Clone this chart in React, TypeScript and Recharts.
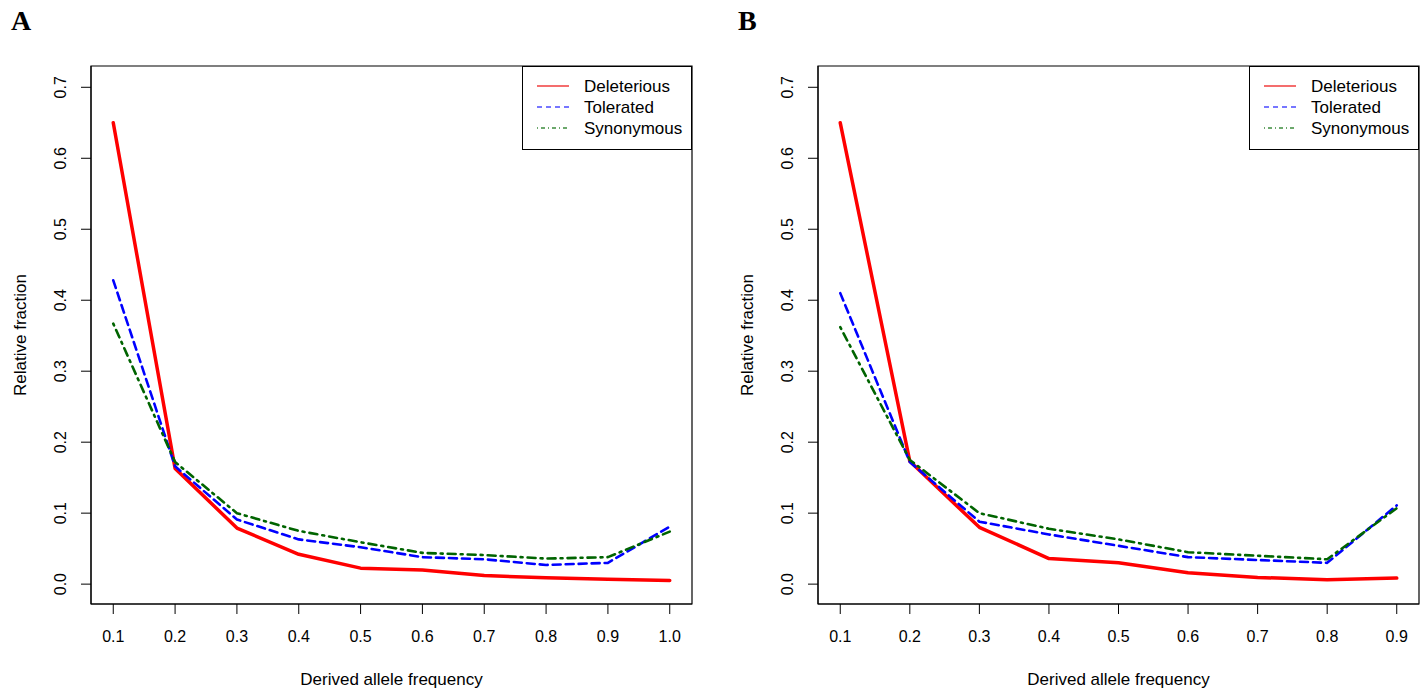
import React from 'react';
import { LineChart, Line, XAxis, YAxis, ReferenceArea, Legend, Label } from 'recharts';

// Panel A: derived allele frequency bins 0.1 .. 1.0
const freqA = [0.1, 0.2, 0.3, 0.4, 0.5, 0.6, 0.7, 0.8, 0.9, 1.0];
const deleteriousA = [0.650, 0.163, 0.079, 0.042, 0.0225, 0.020, 0.012, 0.009, 0.007, 0.005];
const toleratedA = [0.428, 0.166, 0.091, 0.063, 0.052, 0.038, 0.035, 0.027, 0.030, 0.081];
const synonymousA = [0.367, 0.172, 0.100, 0.075, 0.059, 0.044, 0.041, 0.036, 0.038, 0.074];

// Panel B: bins 0.1 .. 0.9
const freqB = [0.1, 0.2, 0.3, 0.4, 0.5, 0.6, 0.7, 0.8, 0.9];
const deleteriousB = [0.650, 0.173, 0.080, 0.036, 0.030, 0.016, 0.0095, 0.006, 0.0085];
const toleratedB = [0.410, 0.172, 0.088, 0.070, 0.054, 0.038, 0.034, 0.030, 0.111];
const synonymousB = [0.362, 0.175, 0.100, 0.078, 0.063, 0.045, 0.040, 0.035, 0.107];

const xTicksA = [0.1, 0.2, 0.3, 0.4, 0.5, 0.6, 0.7, 0.8, 0.9, 1.0];
const xTicksB = [0.1, 0.2, 0.3, 0.4, 0.5, 0.6, 0.7, 0.8, 0.9];
const yTicks = [0, 0.1, 0.2, 0.3, 0.4, 0.5, 0.6, 0.7];

const seriesNames = ['Deleterious', 'Tolerated', 'Synonymous'];

const FONT = '"Liberation Sans", Arial, Helvetica, sans-serif';
const PLOT_TOP = 66;
const PLOT_BOTTOM = 604;
const Y_AXIS_W = 91;
const X_AXIS_H = 90;
const CHART_H = 694;
const PLOT_W = 601;
const Y_DOMAIN: [number, number] = [-0.028, 0.73];

const seriesStyle = [
  { key: 'deleterious', color: '#ff0000', legendColor: '#f03c3c', width: 3.5, dash: undefined, legendDash: undefined },
  { key: 'tolerated', color: '#0000ff', legendColor: '#4a4aff', width: 2.6, dash: '8 5', legendDash: '5 4' },
  { key: 'synonymous', color: '#006400', legendColor: '#3c8c3c', width: 2.6, dash: '2 5 8 5', legendDash: '1 3 4 3' },
];

const buildRows = (freq: number[], d: number[], t: number[], s: number[]) =>
  freq.map((f, i) => ({ freq: f, deleterious: d[i], tolerated: t[i], synonymous: s[i] }));

const XTick = ({ x, payload }: any) => (
  <text x={x} y={642} textAnchor="middle" fontSize={16} fontFamily={FONT} fill="#000">
    {Number(payload.value).toFixed(1)}
  </text>
);

const YTick = ({ y, payload }: any) => (
  <text
    x={66}
    y={y}
    transform={`rotate(-90, 66, ${y})`}
    textAnchor="middle"
    fontSize={16}
    fontFamily={FONT}
    fill="#000"
  >
    {Number(payload.value).toFixed(1)}
  </text>
);

const LegendBox = () => (
  <svg width={170} height={84} style={{ display: 'block' }}>
    <rect x={0.5} y={0.5} width={169} height={83} fill="#fff" stroke="#000" strokeWidth={1} />
    {seriesStyle.map((s, i) => {
      const cy = 20 + i * 21;
      return (
        <g key={s.key}>
          <line x1={15} x2={47} y1={cy} y2={cy} stroke={s.legendColor} strokeWidth={1.5} strokeDasharray={s.legendDash} />
          <text x={62} y={cy} dominantBaseline="central" fontSize={17} fontFamily={FONT} fill="#000">
            {seriesNames[i]}
          </text>
        </g>
      );
    })}
  </svg>
);

interface PanelProps {
  rows: any[];
  xDomain: [number, number];
  xTicks: number[];
  left: number;
  rightMargin: number;
  letter: string;
}

const Panel: React.FC<PanelProps> = ({ rows, xDomain, xTicks, left, rightMargin, letter }) => {
  const width = Y_AXIS_W + PLOT_W + rightMargin;
  return (
    <div style={{ position: 'absolute', left, top: 0, width, height: CHART_H }}>
      <div
        style={{
          position: 'absolute',
          left: 11,
          top: 0,
          fontFamily: '"Liberation Serif", "Times New Roman", serif',
          fontWeight: 'bold',
          fontSize: 28,
          lineHeight: '42px',
          zIndex: 2,
        }}
      >
        {letter}
      </div>
      <LineChart
        width={width}
        height={CHART_H}
        data={rows}
        margin={{ top: PLOT_TOP, right: rightMargin, left: 0, bottom: CHART_H - PLOT_BOTTOM - X_AXIS_H }}
      >
        <XAxis
          dataKey="freq"
          type="number"
          domain={xDomain}
          ticks={xTicks}
          allowDataOverflow
          height={X_AXIS_H}
          tickSize={10}
          tickLine={{ stroke: '#000' }}
          axisLine={{ stroke: '#000' }}
          tick={<XTick />}
          interval={0}
        >
          <Label
            content={() => (
              <text
                x={Y_AXIS_W + PLOT_W / 2}
                y={685}
                textAnchor="middle"
                fontSize={17}
                fontFamily={FONT}
                fill="#000"
              >
                Derived allele frequency
              </text>
            )}
          />
        </XAxis>
        <YAxis
          type="number"
          domain={Y_DOMAIN}
          ticks={yTicks}
          allowDataOverflow
          width={Y_AXIS_W}
          tickSize={10}
          tickLine={{ stroke: '#000' }}
          axisLine={{ stroke: '#000' }}
          tick={<YTick />}
          interval={0}
        >
          <Label
            content={() => (
              <text
                x={26}
                y={(PLOT_TOP + PLOT_BOTTOM) / 2}
                transform={`rotate(-90, 26, ${(PLOT_TOP + PLOT_BOTTOM) / 2})`}
                textAnchor="middle"
                fontSize={17}
                fontFamily={FONT}
                fill="#000"
              >
                Relative fraction
              </text>
            )}
          />
        </YAxis>
        <ReferenceArea
          x1={xDomain[0]}
          x2={xDomain[1]}
          y1={Y_DOMAIN[0]}
          y2={Y_DOMAIN[1]}
          fill="none"
          fillOpacity={0}
          stroke="#000"
          strokeWidth={1.2}
          ifOverflow="visible"
        />
        {seriesStyle.map((s, i) => (
          <Line
            key={s.key}
            type="linear"
            dataKey={s.key}
            name={seriesNames[i]}
            stroke={s.color}
            strokeWidth={s.width}
            strokeDasharray={s.dash}
            strokeLinejoin="round"
            strokeLinecap="round"
            dot={false}
            activeDot={false}
            isAnimationActive={false}
          />
        ))}
        <Legend
          layout="vertical"
          align="center"
          verticalAlign="middle"
          content={<LegendBox />}
          wrapperStyle={{ left: Y_AXIS_W + PLOT_W - 170, top: PLOT_TOP, width: 170, height: 84 }}
        />
      </LineChart>
    </div>
  );
};

const App: React.FC = () => {
  const rowsA = buildRows(freqA, deleteriousA, toleratedA, synonymousA);
  const rowsB = buildRows(freqB, deleteriousB, toleratedB, synonymousB);
  return (
    <div style={{ position: 'absolute', left: 0, top: 0, width: 1427, height: 694, background: '#fff', overflow: 'hidden' }}>
      <Panel rows={rowsA} xDomain={[0.064, 1.036]} xTicks={xTicksA} left={0} rightMargin={30} letter="A" />
      <Panel rows={rowsB} xDomain={[0.068, 0.932]} xTicks={xTicksB} left={727} rightMargin={8} letter="B" />
    </div>
  );
};

export default App;
